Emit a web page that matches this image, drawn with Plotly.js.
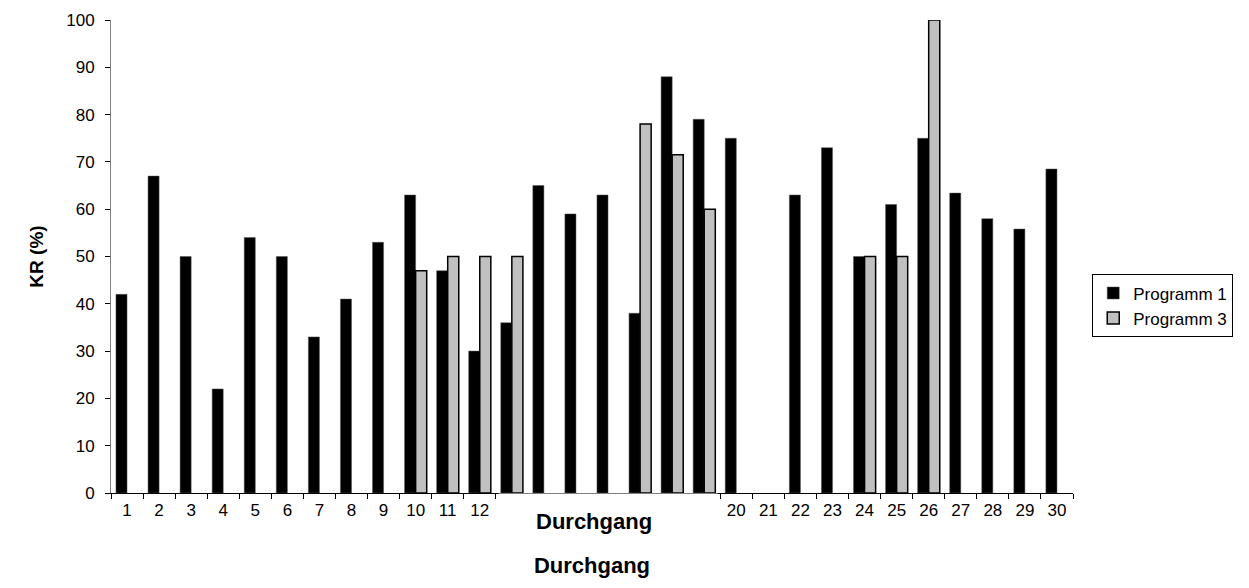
<!DOCTYPE html>
<html>
<head>
<meta charset="utf-8">
<script src="https://cdn.plot.ly/plotly-3.0.1.min.js"></script>
<style>html,body{margin:0;padding:0;background:#fff}#chart{width:1249px;height:588px}</style>
</head>
<body>
<div id="chart"></div>
<script>
const categories = ['1','2','3','4','5','6','7','8','9','10','11','12','13','14','15','16','17','18','19','20','21','22','23','24','25','26','27','28','29','30'];
const programm1 = [42,67,50,22,54,50,33,41,53,63,47,30,36,65,59,63,38,88,79,75,null,63,73,50,61,75,63.4,58,55.8,68.5];
const programm3 = [null,null,null,null,null,null,null,null,null,47,50,50,50,null,null,null,78,71.5,60,null,null,null,null,50,50,100,null,null,null,null];
const seriesNames = ['Programm 1','Programm 3'];
const yTitle = 'KR (%)';
const xTitle = 'Durchgang';

const font = 'Arial, "Liberation Sans", sans-serif';

const traces = [
  {type:'bar', name:seriesNames[0], x:categories, y:programm1,
   marker:{color:'#000000', line:{color:'#555555', width:0.5}}},
  {type:'bar', name:seriesNames[1], x:categories, y:programm3,
   marker:{color:'#c0c0c0', line:{color:'#000000', width:1.5}}}
];

const layout = {
  width:1249, height:588,
  margin:{l:111, r:176, t:20, b:95},
  paper_bgcolor:'#fff', plot_bgcolor:'#fff',
  font:{family:font, size:17, color:'#000'},
  barmode:'group', bargap:0.31, bargroupgap:0,
  showlegend:true,
  legend:{x:1.02, y:0.462, xanchor:'left', yanchor:'top', bordercolor:'#000', borderwidth:1,
          font:{family:font, size:17}, itemwidth:30, tracegroupgap:0},
  xaxis:{type:'category', tickson:'boundaries', ticks:'outside', ticklen:5, tickcolor:'#000',
         showline:true, linecolor:'#000', linewidth:1, showgrid:false, zeroline:false,
         tickfont:{family:font, size:17}, tickangle:0, ticklabelstandoff:2,
         title:{text:xTitle, font:{family:font, size:22, weight:'bold'}, standoff:38}},
  yaxis:{range:[0,100], dtick:10, ticks:'outside', ticklen:5, tickcolor:'#000',
         showline:true, linecolor:'#808080', linewidth:1, showgrid:false, zeroline:false,
         tickfont:{family:font, size:17}, ticklabelstandoff:7,
         title:{text:yTitle, font:{family:font, size:19, weight:'bold'}, standoff:17}},
  annotations:[
    {xref:'paper', yref:'paper', x:0.5166, y:-0.046, xanchor:'center', yanchor:'middle',
     text:' ', showarrow:false, bgcolor:'#ffffff', width:216, height:40},
    {xref:'paper', yref:'paper', x:0.502, y:-0.061, xanchor:'center', yanchor:'middle',
     text:'<b>'+xTitle+'</b>', showarrow:false, font:{family:font, size:22}}
  ]
};

Plotly.newPlot('chart', traces, layout, {displayModeBar:false, staticPlot:true});
</script>
</body>
</html>
